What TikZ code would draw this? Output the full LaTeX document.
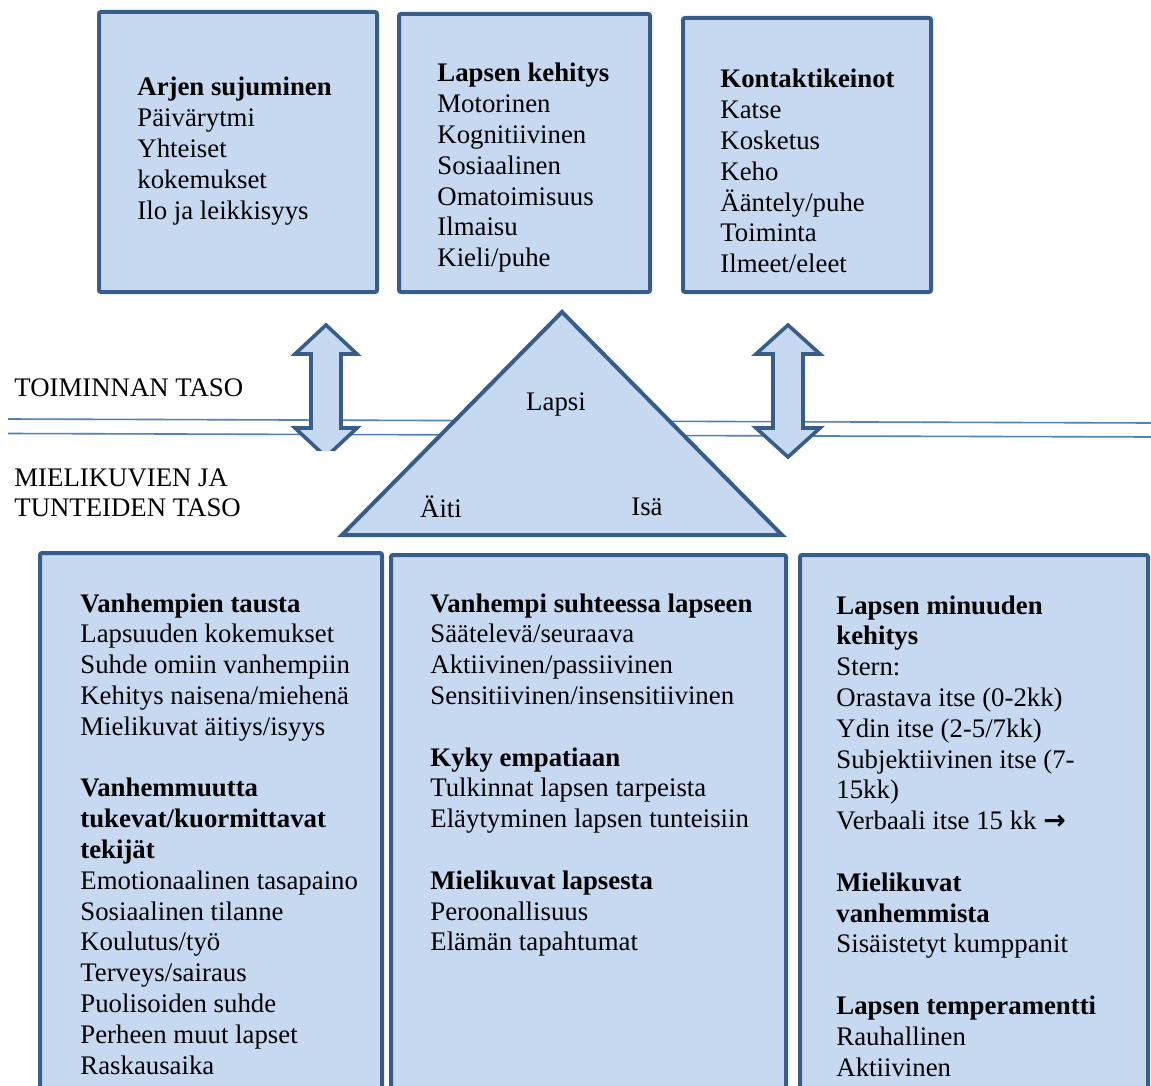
\documentclass[tikz,border=0pt]{standalone}
\usepackage{fontspec}
\setmainfont{Liberation Serif}
\newfontfamily\arrowfont{DejaVu Sans}
\definecolor{panelfill}{HTML}{C6D9F1}
\definecolor{paneledge}{HTML}{385D8A}
\definecolor{levelblue}{HTML}{4F81BD}

\tikzset{
  panel/.style={draw=paneledge, fill=panelfill, line width=2pt, rounded corners=1pt},
  panelarrow/.style={draw=paneledge, fill=panelfill, line width=1.8pt, line join=miter},
  levelline/.style={draw=levelblue, line width=0.8pt},
  paneltext/.style={anchor=north west, inner sep=0pt, align=left, font=\fontsize{13.4}{15.4}\selectfont},
  plaintext/.style={inner sep=0pt, align=left, font=\fontsize{13.4}{15.4}\selectfont},
}

\begin{document}
\begin{tikzpicture}[x=0.5pt, y=-0.5pt]
  \useasboundingbox (0,0) rectangle (1151,1086);
  \clip (0,0) rectangle (1151,1086);

  % level lines
  \draw[levelline] (8,419) -- (1151,423);
  \draw[levelline] (8,433.5) -- (1151,437);

  % level labels
  \node[plaintext, anchor=west] (toiminta) at (14,388) {TOIMINNAN TASO};
  \node[plaintext, anchor=north west] (mielikuva) at (14,468) {MIELIKUVIEN JA\\TUNTEIDEN TASO};

  % top panels
  \draw[panel] (99,12) rectangle (377,292);
  \draw[panel] (399,14) rectangle (650,292);
  \draw[panel] (683,18) rectangle (931,292);

  \node[paneltext] (arki) at (137,77) {\textbf{Arjen sujuminen}\\Päivärytmi\\Yhteiset\\kokemukset\\Ilo ja leikkisyys};
  \node[paneltext] (kehitys) at (437,63) {\textbf{Lapsen kehitys}\\Motorinen\\Kognitiivinen\\Sosiaalinen\\Omatoimisuus\\Ilmaisu\\Kieli/puhe};
  \node[paneltext] (kontakti) at (720,69) {\textbf{Kontaktikeinot}\\Katse\\Kosketus\\Keho\\Ääntely/puhe\\Toiminta\\Ilmeet/eleet};

  % double arrows between levels
  \begin{scope}
    \clip (0,0) rectangle (1151,450);
    \draw[panelarrow] (326,325) -- (357,354) -- (341,354) -- (341,428) -- (357,428)
      -- (326,457) -- (295,428) -- (311,428) -- (311,354) -- (295,354) -- cycle;
  \end{scope}
  \draw[panelarrow] (788,325) -- (820,354) -- (803,354) -- (803,428) -- (820,428)
    -- (788,457) -- (756,428) -- (773,428) -- (773,354) -- (756,354) -- cycle;

  % triangle
  \draw[panel, rounded corners=0pt, line join=miter] (562,312) -- (782,535) -- (342,535) -- cycle;
  \node[plaintext] (lapsi) at (556,404) {Lapsi};
  \node[plaintext] (aiti) at (441,507) {Äiti};
  \node[plaintext] (isa) at (647,507) {Isä};

  % bottom panels
  \draw[panel] (40,553) rectangle (382,1110);
  \draw[panel] (391,555) rectangle (786,1110);
  \draw[panel] (800,555) rectangle (1148,1110);

  \node[paneltext] (tausta) at (80,593) {\textbf{Vanhempien tausta}\\Lapsuuden kokemukset\\Suhde omiin vanhempiin\\Kehitys naisena/miehenä\\Mielikuvat äitiys/isyys\\[15.4pt]
    \textbf{Vanhemmuutta}\\\textbf{tukevat/kuormittavat}\\\textbf{tekijät}\\Emotionaalinen tasapaino\\Sosiaalinen tilanne\\Koulutus/työ\\Terveys/sairaus\\Puolisoiden suhde\\Perheen muut lapset\\Raskausaika\\Synnytys};
  \node[paneltext] (suhde) at (430,593) {\textbf{Vanhempi suhteessa lapseen}\\Säätelevä/seuraava\\Aktiivinen/passiivinen\\Sensitiivinen/insensitiivinen\\[15.4pt]
    \textbf{Kyky empatiaan}\\Tulkinnat lapsen tarpeista\\Eläytyminen lapsen tunteisiin\\[15.4pt]
    \textbf{Mielikuvat lapsesta}\\Peroonallisuus\\Elämän tapahtumat};
  \node[paneltext] (minuus) at (836,595) {\textbf{Lapsen minuuden}\\\textbf{kehitys}\\Stern:\\Orastava itse (0-2kk)\\Ydin itse (2-5/7kk)\\Subjektiivinen itse (7-\\15kk)\\Verbaali itse 15 kk {\arrowfont\bfseries →}\\[15.4pt]
    \textbf{Mielikuvat}\\\textbf{vanhemmista}\\Sisäistetyt kumppanit\\[15.4pt]
    \textbf{Lapsen temperamentti}\\Rauhallinen\\Aktiivinen};
\end{tikzpicture}
\end{document}
